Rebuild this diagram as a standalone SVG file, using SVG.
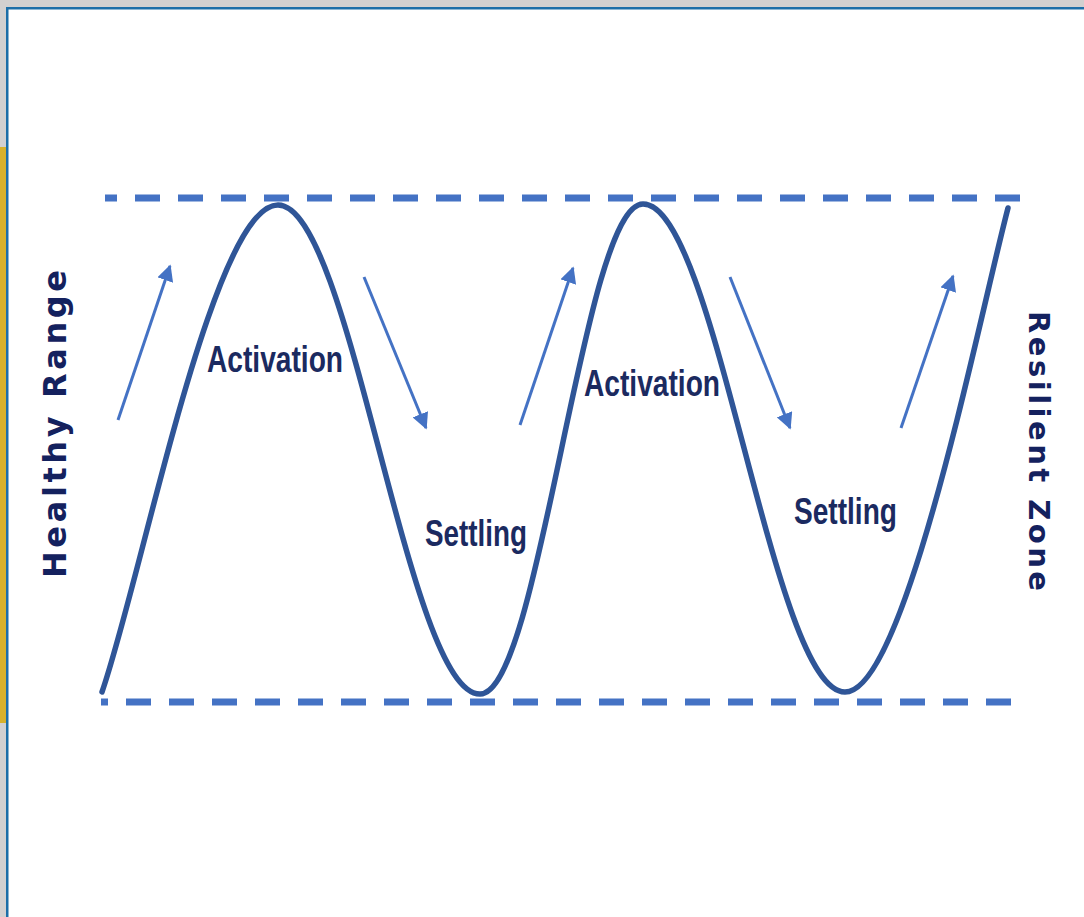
<svg xmlns="http://www.w3.org/2000/svg" width="1084" height="917" viewBox="0 0 1084 917">
<defs>
<style>
.dash{stroke:#4472c4;stroke-width:7;stroke-dasharray:25 18;fill:none}
.wave{stroke:#2f5597;stroke-width:5.5;fill:none;stroke-linecap:round}
.arr{stroke:#4472c4;stroke-width:3;fill:none}
.lbl{font-family:"Liberation Sans",Arial,sans-serif;font-weight:bold;font-size:37px;fill:#1b2a60}
.side{font-family:"DejaVu Sans",Verdana,sans-serif;font-weight:bold;fill:#14215e}
</style>
<marker id="ah" viewBox="0 0 10 10" refX="9" refY="5" markerWidth="5.5" markerHeight="5.5" markerUnits="strokeWidth" orient="auto">
<path d="M0,0 L10,5 L0,10 z" fill="#4472c4"/>
</marker>
</defs>
<rect x="0" y="0" width="1084" height="917" fill="#ffffff"/>
<g id="frame">
<rect x="0" y="0" width="1084" height="7" fill="#d2d0d0"/>
<rect x="0" y="0" width="6" height="917" fill="#d2d0d0"/>
<rect x="0" y="147" width="6" height="576" fill="#d8b12a"/>
<rect x="6" y="7" width="1078" height="2.5" fill="#1c6ea8"/>
<rect x="6" y="7" width="2.5" height="910" fill="#1c6ea8"/>
</g>
<g id="range-lines">
<line class="dash" x1="105" y1="198" x2="1025" y2="198" stroke-dashoffset="13"/>
<line class="dash" x1="101" y1="702" x2="1012" y2="702" stroke-dashoffset="18"/>
</g>
<g id="wave">
<path class="wave" d="M102,692 C142,577 213,205 278,205 C351,205 407,694 480,694 C540,694 583,204 643,204 C716,204 772,692 845,692 C905,692 978,323 1008,208"/>
</g>
<g id="connectors">
<line class="arr" x1="118" y1="420" x2="170" y2="266" marker-end="url(#ah)"/>
<line class="arr" x1="364" y1="277" x2="426" y2="428" marker-end="url(#ah)"/>
<line class="arr" x1="520" y1="425" x2="573" y2="268" marker-end="url(#ah)"/>
<line class="arr" x1="730" y1="277" x2="790" y2="428" marker-end="url(#ah)"/>
<line class="arr" x1="901" y1="428" x2="953" y2="276" marker-end="url(#ah)"/>
</g>
<g id="label-activation-1"><text class="lbl" x="207" y="372" textLength="136" lengthAdjust="spacingAndGlyphs">Activation</text></g>
<g id="label-activation-2"><text class="lbl" x="584" y="396" textLength="136" lengthAdjust="spacingAndGlyphs">Activation</text></g>
<g id="label-settling-1"><text class="lbl" x="425" y="546" textLength="102" lengthAdjust="spacingAndGlyphs">Settling</text></g>
<g id="label-settling-2"><text class="lbl" x="794" y="524" textLength="103" lengthAdjust="spacingAndGlyphs">Settling</text></g>
<g id="label-healthy-range"><text class="side" font-size="32" transform="translate(66,578) rotate(-90)" x="0" y="0" textLength="308" lengthAdjust="spacing">Healthy Range</text></g>
<g id="label-resilient-zone"><text class="side" font-size="29" transform="translate(1029,311) rotate(90)" x="0" y="0" textLength="280" lengthAdjust="spacing">Resilient Zone</text></g>
</svg>
